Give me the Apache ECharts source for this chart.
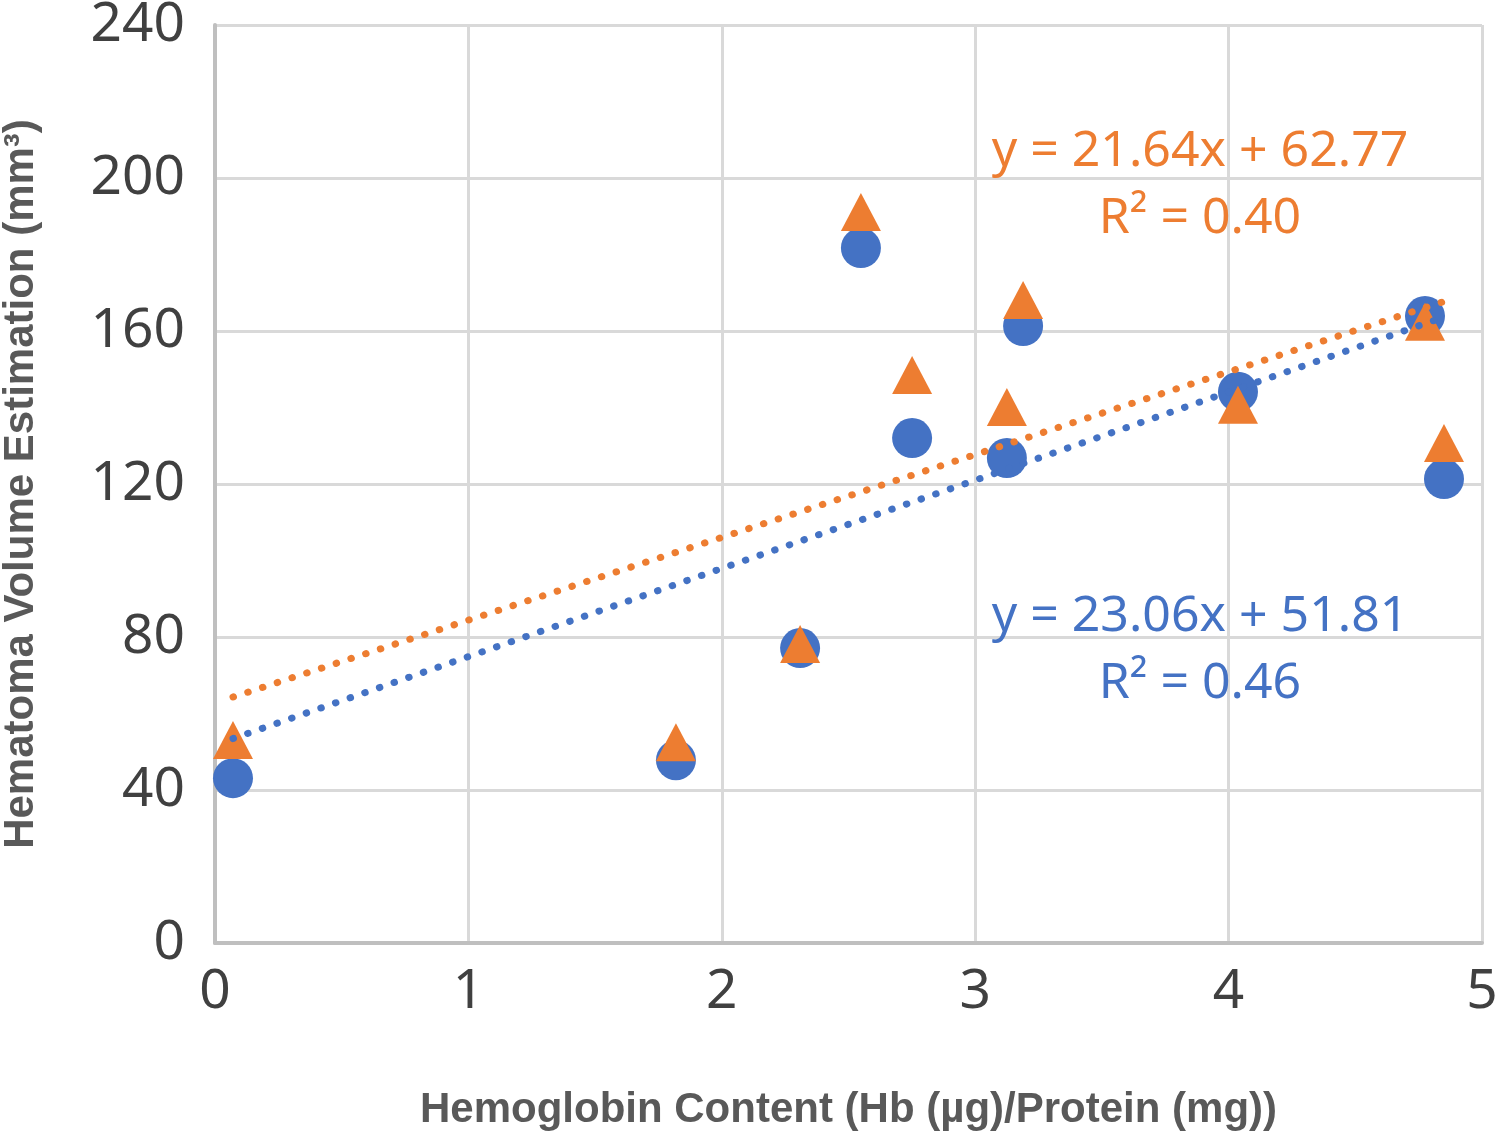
<!DOCTYPE html>
<html>
<head>
<meta charset="utf-8">
<script src="https://cdn.jsdelivr.net/npm/echarts@6/dist/echarts.min.js"></script>
<style>
html,body{margin:0;padding:0;background:#fff;}
#chart{width:1500px;height:1132px;}
</style>
</head>
<body>
<div id="chart"></div>
<script>
// ---- data ----
const hbContent = [0.071, 1.819, 2.309, 2.549, 2.751, 3.125, 3.189, 4.037, 4.775, 4.850];
const volumeBlue = [43.1, 47.8, 77.1, 181.7, 132.0, 126.8, 161.3, 144.1, 163.9, 121.3];
const volumeOrange = [53.1, 52.5, 78.2, 191.1, 148.5, 140.1, 168.1, 140.7, 162.4, 130.7];
const trendBlue = {slope: 23.06, intercept: 51.81, r2: '0.46'};
const trendOrange = {slope: 21.64, intercept: 62.77, r2: '0.40'};
const xTicks = [0, 1, 2, 3, 4, 5];
const yTicks = [0, 40, 80, 120, 160, 200, 240];
const xTitle = 'Hemoglobin Content (Hb (µg)/Protein (mg))';
const yTitle = 'Hematoma Volume Estimation (mm³)';

const BLUE = '#4472C4', ORANGE = '#ED7D31';
const xMinData = Math.min(...hbContent), xMaxData = Math.max(...hbContent);
function trendPts(t){ return [[xMinData, t.slope*xMinData + t.intercept],[xMaxData, t.slope*xMaxData + t.intercept]]; }
function eqText(t){ return 'y = ' + t.slope.toFixed(2) + 'x + ' + t.intercept.toFixed(2) + '\nR² = ' + t.r2; }

const chart = echarts.init(document.getElementById('chart'), null, {renderer:'canvas'});
const tickFont = '"Noto Sans", "Open Sans", sans-serif';
const titleFont = '"Liberation Sans Narrow", "Liberation Sans", sans-serif';
const option = {
  animation: false,
  backgroundColor: '#ffffff',
  grid: {left: 215, right: 18, top: 25, bottom: 189, containLabel: false, outerBoundsMode: 'none'},
  xAxis: {
    type: 'value', min: xTicks[0], max: xTicks[xTicks.length-1], interval: 1,
    axisLine: {show: true, lineStyle: {color: '#bfbfbf', width: 4}},
    axisTick: {show: false},
    splitLine: {show: true, lineStyle: {color: '#d9d9d9', width: 3}},
    axisLabel: {color: '#404040', fontSize: 55, fontFamily: tickFont, margin: 22},
    name: xTitle, nameLocation: 'middle', nameGap: 146,
    nameTextStyle: {color: '#595959', fontSize: 42, fontWeight: 'bold', fontFamily: titleFont}
  },
  yAxis: {
    type: 'value', min: yTicks[0], max: yTicks[yTicks.length-1], interval: 40,
    axisLine: {show: true, lineStyle: {color: '#bfbfbf', width: 4}},
    axisTick: {show: false},
    splitLine: {show: true, lineStyle: {color: '#d9d9d9', width: 3}},
    axisLabel: {color: '#404040', fontSize: 55, fontFamily: tickFont, margin: 30},
    name: yTitle, nameLocation: 'middle', nameGap: 173, nameRotate: 90,
    nameTextStyle: {color: '#595959', fontSize: 42, fontWeight: 'bold', fontFamily: titleFont}
  },
  series: [
    {type: 'scatter', name: 'Blue', data: hbContent.map((x,i)=>[x, volumeBlue[i]]),
     symbol: 'circle', symbolSize: 40, itemStyle: {color: BLUE, opacity: 1}, z: 2},
    {type: 'scatter', name: 'Orange', data: hbContent.map((x,i)=>[x, volumeOrange[i]]),
     symbol: 'triangle', symbolSize: [40, 38], itemStyle: {color: ORANGE, opacity: 1}, z: 3},
    {type: 'line', name: 'Blue trend', data: trendPts(trendBlue), symbol: 'none', silent: true,
     lineStyle: {color: BLUE, width: 7, type: [0.5, 15], cap: 'round'}, z: 4},
    {type: 'line', name: 'Orange trend', data: trendPts(trendOrange), symbol: 'none', silent: true,
     lineStyle: {color: ORANGE, width: 7, type: [0.5, 15], cap: 'round'}, z: 4}
  ],
  graphic: [
    {type: 'text', x: 1200, y: 118, z: 10,
     style: {text: eqText(trendOrange), fill: ORANGE, font: '50px "Noto Sans", sans-serif', align: 'center', textAlign: 'center', lineHeight: 67}},
    {type: 'text', x: 1200, y: 583, z: 10,
     style: {text: eqText(trendBlue), fill: BLUE, font: '50px "Noto Sans", sans-serif', align: 'center', textAlign: 'center', lineHeight: 67}}
  ]
};
chart.setOption(option);
</script>
</body>
</html>
